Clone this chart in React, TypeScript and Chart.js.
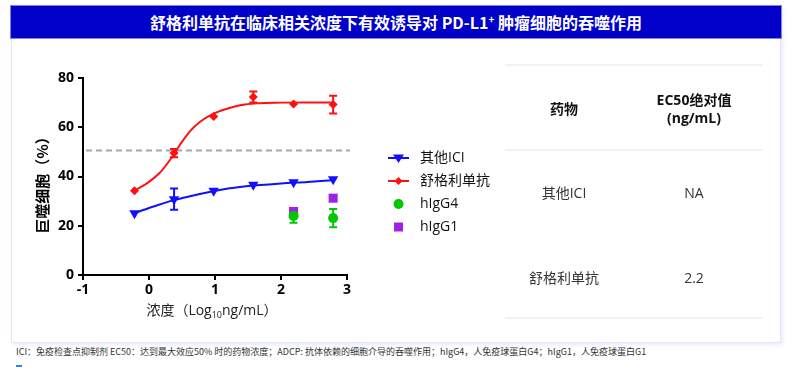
import React, { useEffect, useRef } from 'react';
import { Chart, registerables } from 'chart.js';
Chart.register(...registerables);

// ---- data ----
const logConc = [-0.22, 0.38, 0.98, 1.58, 2.19, 2.79];
const sugemalimabMean = [34.2, 49.5, 64.4, 72.3, 69.4, 69.2];
const sugemalimabErr = [0, 1.7, 0, 2.2, 0, 3.6];
const otherIciMean = [25.1, 30.8, 34.2, 36.6, 37.7, 38.9];
const otherIciErr = [0, 4.3, 0, 0, 0, 0];
const igGConc = [2.19, 2.79];
const hIgG4Mean = [24.0, 23.1];
const hIgG4Err = [2.8, 3.7];
const hIgG1Mean = [25.8, 31.2];
const fitX = [-0.22, 0.0, 0.16, 0.32, 0.47, 0.62, 0.77, 0.97, 1.18, 1.38, 1.63, 2.0, 2.4, 2.79];
const sugemalimabFit = [34.2, 37.8, 41.4, 46.8, 52.9, 58.3, 62.1, 65.4, 67.5, 68.9, 69.7, 70.0, 70.1, 70.1];
const otherIciFit = [25.1, 27.2, 28.6, 30.0, 31.0, 32.0, 32.9, 34.0, 35.0, 35.7, 36.4, 37.2, 37.8, 38.5];
const thresholdY = 50.6;
const xTicks = [-1, 0, 1, 2, 3];
const yTicks = [0, 20, 40, 60, 80];
const legendLabels = ['其他ICI', '舒格利单抗', 'hIgG4', 'hIgG1'];
const tableHeaders = ['药物', 'EC50绝对值', '(ng/mL)'];
const tableDrugs = ['其他ICI', '舒格利单抗'];
const tableEc50 = ['NA', '2.2'];

const BLUE = '#1010ff';
const RED = '#ff1010';
const GREEN = '#00c800';
const PURPLE = '#a020e8';
const FONT = '"Open Sans", "Noto Sans CJK SC", sans-serif';
const CJK = '"Noto Sans CJK SC", "Open Sans", sans-serif';

function pts(xs: number[], ys: number[]) {
  return xs.map((x, i) => ({ x, y: ys[i] }));
}

function drawMarker(ctx: CanvasRenderingContext2D, kind: string, x: number, y: number, color: string) {
  ctx.save();
  ctx.fillStyle = color;
  ctx.beginPath();
  if (kind === 'tri') {
    ctx.moveTo(x - 5.5, y - 3.5);
    ctx.lineTo(x + 5.5, y - 3.5);
    ctx.lineTo(x, y + 5);
    ctx.closePath();
  } else if (kind === 'dia') {
    ctx.moveTo(x, y - 4);
    ctx.lineTo(x + 4, y);
    ctx.lineTo(x, y + 4);
    ctx.lineTo(x - 4, y);
    ctx.closePath();
  } else if (kind === 'circ') {
    ctx.arc(x, y, 5, 0, Math.PI * 2);
  } else {
    ctx.rect(x - 4.5, y - 4.5, 9, 9);
  }
  ctx.fill();
  ctx.restore();
}

const overlayPlugin = {
  id: 'overlay',
  beforeDatasetsDraw(chart: any) {
    const { ctx, scales } = chart;
    const xs = scales.x;
    const ys = scales.y;
    // dashed threshold line
    ctx.save();
    ctx.strokeStyle = '#a8a8a8';
    ctx.lineWidth = 2;
    ctx.setLineDash([6, 4]);
    ctx.beginPath();
    ctx.moveTo(xs.getPixelForValue(-1) + 3, ys.getPixelForValue(thresholdY));
    ctx.lineTo(xs.getPixelForValue(3) + 3, ys.getPixelForValue(thresholdY));
    ctx.stroke();
    ctx.restore();
    // error bars
    const bars = (xv: number[], m: number[], e: number[], color: string) => {
      ctx.save();
      ctx.strokeStyle = color;
      ctx.lineWidth = 2;
      xv.forEach((x, i) => {
        if (!e[i]) return;
        const px = xs.getPixelForValue(x);
        const top = ys.getPixelForValue(m[i] + e[i]);
        const bot = ys.getPixelForValue(m[i] - e[i]);
        ctx.beginPath();
        ctx.moveTo(px, top);
        ctx.lineTo(px, bot);
        ctx.moveTo(px - 4, top);
        ctx.lineTo(px + 4, top);
        ctx.moveTo(px - 4, bot);
        ctx.lineTo(px + 4, bot);
        ctx.stroke();
      });
      ctx.restore();
    };
    bars(logConc, sugemalimabMean, sugemalimabErr, RED);
    bars(logConc, otherIciMean, otherIciErr, BLUE);
    bars(igGConc, hIgG4Mean, hIgG4Err, GREEN);
  },
  afterDraw(chart: any) {
    const { ctx, chartArea } = chart;
    ctx.save();
    // y title
    ctx.fillStyle = '#000';
    ctx.font = `bold 15px ${CJK}`;
    ctx.textAlign = 'center';
    ctx.textBaseline = 'middle';
    ctx.translate(chartArea.left - 41, (chartArea.top + chartArea.bottom) / 2 + 5);
    ctx.rotate(-Math.PI / 2);
    ctx.fillText('巨噬细胞（%）', 0, 0);
    ctx.restore();

    // x title with subscript
    ctx.save();
    ctx.fillStyle = '#222';
    ctx.textBaseline = 'alphabetic';
    const parts = [
      { t: '浓度（Log', f: `14px ${FONT}`, dy: 0 },
      { t: '10', f: `9px ${FONT}`, dy: 3 },
      { t: 'ng/mL）', f: `14px ${FONT}`, dy: 0 },
    ];
    let total = 0;
    parts.forEach(p => { ctx.font = p.f; total += ctx.measureText(p.t).width; });
    let x = (chartArea.left + chartArea.right) / 2 - 3 - total / 2;
    const base = chartArea.bottom + 40;
    parts.forEach(p => {
      ctx.font = p.f;
      ctx.fillText(p.t, x, base + p.dy);
      x += ctx.measureText(p.t).width;
    });
    ctx.restore();

    // legend
    ctx.save();
    const lx = chartArea.right + 41;
    const rows = [chartArea.top + 80, chartArea.top + 103, chartArea.top + 126, chartArea.top + 149];
    const kinds = ['tri', 'dia', 'circ', 'sq'];
    const colors = [BLUE, RED, GREEN, PURPLE];
    rows.forEach((ry, i) => {
      if (i < 2) {
        ctx.strokeStyle = colors[i];
        ctx.lineWidth = 2;
        ctx.beginPath();
        ctx.moveTo(lx, ry);
        ctx.lineTo(lx + 21, ry);
        ctx.stroke();
      }
      drawMarker(ctx, kinds[i], lx + 10.5, ry, colors[i]);
      ctx.fillStyle = '#111';
      ctx.font = `14px ${FONT}`;
      ctx.textAlign = 'left';
      ctx.textBaseline = 'middle';
      ctx.fillText(legendLabels[i], lx + 32, ry);
    });
    ctx.restore();
  },
};

function ChartBox() {
  const ref = useRef<HTMLCanvasElement>(null);
  useEffect(() => {
    if (!ref.current) return;
    const axisCommon = {
      type: 'linear' as const,
      grid: { display: true, drawOnChartArea: false, drawTicks: true, tickLength: 5, color: '#000', lineWidth: 2 },
      border: { display: true, color: '#000', width: 2 },
    };
    const chart = new Chart(ref.current, {
      type: 'line',
      data: {
        datasets: [
          { label: 'hIgG1', data: pts(igGConc, hIgG1Mean), showLine: false, pointStyle: 'rect', pointRadius: 6.4, backgroundColor: PURPLE, borderColor: PURPLE, borderWidth: 0, order: 6 } as any,
          { label: 'hIgG4', data: pts(igGConc, hIgG4Mean), showLine: false, pointStyle: 'circle', pointRadius: 5, backgroundColor: GREEN, borderColor: GREEN, borderWidth: 0, order: 5 },
          { label: '其他ICI fit', data: pts(fitX, otherIciFit), borderColor: BLUE, borderWidth: 2, pointRadius: 0, cubicInterpolationMode: 'monotone', order: 4 },
          { label: '舒格利单抗 fit', data: pts(fitX, sugemalimabFit), borderColor: RED, borderWidth: 2, pointRadius: 0, cubicInterpolationMode: 'monotone', order: 3 },
          { label: '其他ICI', data: pts(logConc, otherIciMean), showLine: false, pointStyle: 'triangle', pointRotation: 180, pointRadius: 6, backgroundColor: BLUE, borderColor: BLUE, borderWidth: 0, order: 2 },
          { label: '舒格利单抗', data: pts(logConc, sugemalimabMean), showLine: false, pointStyle: 'rectRot', pointRadius: 4.5, backgroundColor: RED, borderColor: RED, borderWidth: 0, order: 1 },
        ],
      },
      options: {
        responsive: false,
        animation: false,
        events: [],
        layout: { padding: { left: 0, top: 23, right: 153, bottom: 0 } },
        plugins: { legend: { display: false }, tooltip: { enabled: false } },
        scales: {
          x: {
            ...axisCommon,
            min: -1,
            max: 3,
            afterBuildTicks: (s: any) => { s.ticks = xTicks.map(v => ({ value: v })); },
            ticks: { color: '#000', font: { family: FONT, size: 14, weight: 'bold' }, padding: 2 },
            afterFit: (s: any) => { s.height = 50; },
          },
          y: {
            ...axisCommon,
            min: 0,
            max: 80,
            afterBuildTicks: (s: any) => { s.ticks = yTicks.map(v => ({ value: v })); },
            ticks: { color: '#000', font: { family: FONT, size: 14, weight: 'bold' }, padding: 4 },
            afterFit: (s: any) => { s.width = 63; },
          },
        },
      } as any,
      plugins: [overlayPlugin],
    });
    return () => chart.destroy();
  }, []);
  return <canvas ref={ref} width={480} height={270} style={{ position: 'absolute', left: 20, top: 55, width: 480, height: 270 }} />;
}

export default function App() {
  const line = (top: number) => (
    <div style={{ position: 'absolute', left: 505, top, width: 258, height: 2, background: '#f1f1f4' }} />
  );
  const cell = (text: string, cx: number, cy: number, bold: boolean) => (
    <div style={{ position: 'absolute', left: cx - 70, top: cy - 10, width: 140, height: 20, lineHeight: '20px', textAlign: 'center', fontSize: 14, fontWeight: bold ? 700 : 400, color: bold ? '#111' : '#333', fontFamily: FONT, whiteSpace: 'nowrap' }}>{text}</div>
  );
  return (
    <div style={{ position: 'absolute', left: 0, top: 0, width: 791, height: 367, overflow: 'hidden', background: '#fff', fontFamily: FONT }}>
      <div style={{ position: 'absolute', left: 11, top: 6, width: 768, height: 335, border: '1px solid #e4e4fa', boxShadow: '2px 2px 3px rgba(120,120,255,0.15)', background: '#fff' }} />
      <div style={{ position: 'absolute', left: 11, top: 6, width: 770, height: 32, background: '#0000c8', boxShadow: '0 0 0 1px #8080ee', color: '#fff', fontFamily: CJK, fontWeight: 700, fontSize: 16, lineHeight: '32px', textAlign: 'center', whiteSpace: 'nowrap' }}>
        舒格利单抗在临床相关浓度下有效诱导对 PD-L1<span style={{ fontSize: 10, verticalAlign: 'super', lineHeight: 0 }}>+</span> 肿瘤细胞的吞噬作用
      </div>
      <ChartBox />
      {line(64)}
      {cell(tableHeaders[0], 564, 109, true)}
      {cell(tableHeaders[1], 694, 100, true)}
      {cell(tableHeaders[2], 694, 118, true)}
      {line(149)}
      {cell(tableDrugs[0], 564, 193, false)}
      {cell(tableEc50[0], 694, 193, false)}
      {cell(tableDrugs[1], 564, 278, false)}
      {cell(tableEc50[1], 694, 278, false)}
      {line(317)}
      <div style={{ position: 'absolute', left: 16, top: 346, fontSize: 9, color: '#333', fontFamily: CJK, whiteSpace: 'nowrap', lineHeight: '12px' }}>
        ICI：免疫检查点抑制剂  EC50：达到最大效应50% 时的药物浓度；ADCP: 抗体依赖的细胞介导的吞噬作用；hIgG4，人免疫球蛋白G4；hIgG1，人免疫球蛋白G1
      </div>
      <div style={{ position: 'absolute', left: 16, top: 365, width: 6, height: 2, background: '#3a7be0' }} />
    </div>
  );
}
